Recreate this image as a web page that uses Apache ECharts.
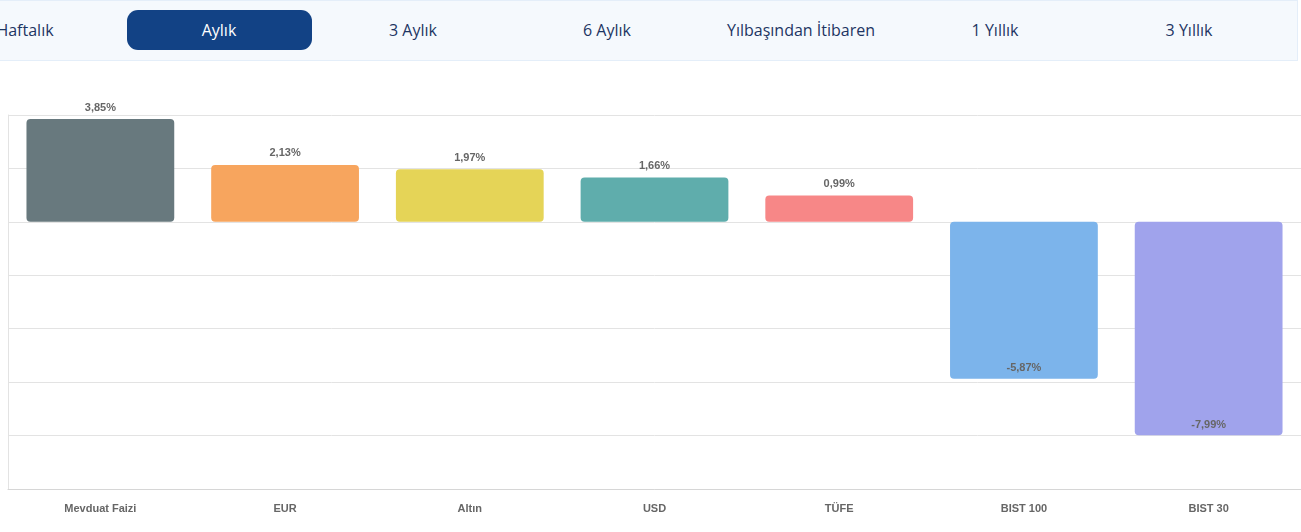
<!DOCTYPE html>
<html lang="tr">
<head>
<meta charset="UTF-8">
<title>Getiri Karşılaştırma</title>
<script src="https://cdn.jsdelivr.net/npm/echarts@6/dist/echarts.min.js"></script>
<style>
    body { margin: 0; padding: 0; width: 1301px; height: 532px; overflow: hidden; background: #fff; position: relative; font-family: "Open Sans", sans-serif; }
    #tabs { position: absolute; left: 0; top: 0; width: 1297px; height: 59px; background: #f5f9fd; border: 1px solid #e4eef9; border-left: none; }
    .tab { position: absolute; top: 9px; width: 185px; height: 40px; line-height: 40px; text-align: center; font-size: 16px; color: #1d3563; border-radius: 11px; }
    .tab.active { background: #124285; color: #fff; }
    #main { position: absolute; left: 0; top: 61px; width: 1301px; height: 471px; }
</style>
</head>
<body>
<div id="tabs"></div>
<div id="main"></div>
<script type="text/javascript">
    // sekmeler
    var tabNames = ['Haftalık', 'Aylık', '3 Aylık', '6 Aylık', 'Yılbaşından İtibaren', '1 Yıllık', '3 Yıllık'];
    var activeTab = 1;
    var tabBox = document.getElementById('tabs');
    for (var i = 0; i < tabNames.length; i++) {
        var d = document.createElement('div');
        d.className = 'tab' + (i === activeTab ? ' active' : '');
        d.style.left = (25 + i * 194 - 92.5) + 'px';
        d.textContent = tabNames[i];
        tabBox.appendChild(d);
    }

    // veriler
    var categories = ['Mevduat Faizi', 'EUR', 'Altın', 'USD', 'TÜFE', 'BIST 100', 'BIST 30'];
    var returns = [3.85, 2.13, 1.97, 1.66, 0.99, -5.87, -7.99];
    var colors = ['#68797e', '#f7a55e', '#e5d457', '#5fadac', '#f78787', '#7cb4eb', '#a0a3ec'];

    var myChart = echarts.init(document.getElementById('main'));
    var items = [];
    for (var j = 0; j < returns.length; j++) {
        var neg = returns[j] < 0;
        items.push({
            value: returns[j],
            itemStyle: { color: colors[j] },
            label: { position: neg ? 'insideBottom' : 'top', distance: neg ? 5 : 6 }
        });
    }
    var option = {
        animation: false,
        grid: { left: 8, right: 0, top: 54, bottom: 43 },
        xAxis: {
            type: 'category',
            data: categories,
            axisLine: { onZero: false, lineStyle: { color: '#d6d6d6' } },
            axisTick: { show: false },
            axisLabel: { color: '#666', fontSize: 11, fontWeight: 'bold', fontFamily: 'Arial', margin: 14 }
        },
        yAxis: {
            type: 'value',
            min: -10,
            max: 4,
            interval: 2,
            axisLabel: { show: false },
            axisLine: { show: true, lineStyle: { color: '#e3e3e3' } },
            axisTick: { show: false },
            splitLine: { lineStyle: { color: '#e3e3e3' } }
        },
        series: [{
            type: 'bar',
            barWidth: '80%',
            data: items,
            itemStyle: { borderRadius: 4 },
            label: {
                show: true,
                color: '#666',
                fontSize: 11,
                fontWeight: 'bold',
                fontFamily: 'Arial',
                formatter: function (p) { return p.value.toFixed(2).replace('.', ',') + '%'; }
            }
        }]
    };
    myChart.setOption(option);
</script>
</body>
</html>
